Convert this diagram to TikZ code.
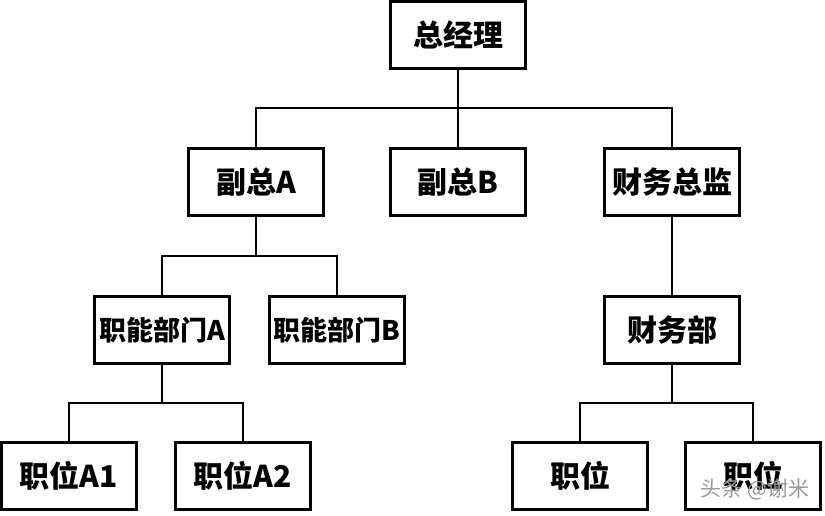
\documentclass[tikz,border=0pt]{standalone}
\usepackage{fontspec}
\usepackage{tikz}
\usetikzlibrary{positioning}
\newfontfamily\cjk{Noto Sans CJK SC}
\tikzset{
    orgbox/.style={draw, line width=2.5pt, minimum width=135pt, minimum height=67pt,
        inner sep=0pt, font=\cjk\bfseries\fontsize{30}{30}\selectfont},
    narrow/.style={font=\cjk\bfseries\fontsize{27}{27}\selectfont},
    link/.style={line width=2.5pt}
}
\begin{document}
\begin{tikzpicture}[x=1pt, y=-1pt]
    \useasboundingbox (0,0) rectangle (825,515);
    % levels
    \node[orgbox] (zjl) at (458,35) {总经理};
    \node[orgbox] (fzA) at (256,182) {副总A};
    \node[orgbox] (fzB) at (458,182) {副总B};
    \node[orgbox] (cwzj) at (672,182) {财务总监};
    \node[orgbox, narrow] (znA) at (162,330) {职能部门A};
    \node[orgbox, narrow] (znB) at (337,330) {职能部门B};
    \node[orgbox] (cwb) at (672,330) {财务部};
    \node[orgbox] (zwA1) at (69,476) {职位A1};
    \node[orgbox] (zwA2) at (243,476) {职位A2};
    \node[orgbox] (zw1) at (580,476) {职位};
    \node[orgbox] (zw2) at (753,476) {职位};
    % buses
    \coordinate (bus1) at (458,108);
    \coordinate (bus2) at (256,256);
    \coordinate (bus3) at (162,403);
    \coordinate (bus4) at (672,403);
    \draw[link] (zjl) -- (fzB);
    \draw[link] (fzA.north) |- (bus1) -| (cwzj.north);
    \draw[link] (fzA) -- (bus2);
    \draw[link] (znA.north) |- (bus2) -| (znB.north);
    \draw[link] (cwzj) -- (cwb);
    \draw[link] (znA) -- (bus3);
    \draw[link] (zwA1.north) |- (bus3) -| (zwA2.north);
    \draw[link] (cwb) -- (bus4);
    \draw[link] (zw1.north) |- (bus4) -| (zw2.north);
    \node[text=gray!80, font=\cjk\fontsize{21}{21}\selectfont, anchor=east] (mark) at (813,489) {头条 @谢米};
\end{tikzpicture}
\end{document}
